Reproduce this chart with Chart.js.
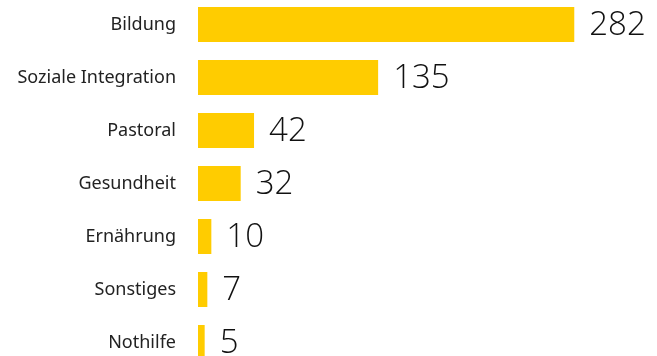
<!DOCTYPE html>
<html>
<head>
<meta charset="utf-8">
<script src="https://cdn.jsdelivr.net/npm/chart.js@4"></script>
<style>
  html, body { margin: 0; padding: 0; background: #fff; overflow: hidden; }
  #projectChart { position: absolute; left: 0; top: -2px; }
</style>
</head>
<body>
<canvas id="projectChart" width="657" height="371"></canvas>
<script>
// Projekte nach Bereich
const categories = ['Bildung', 'Soziale Integration', 'Pastoral', 'Gesundheit', 'Ernährung', 'Sonstiges', 'Nothilfe'];
const projectCounts = [282, 135, 42, 32, 10, 7, 5];

const barColor = '#FFCC00';

// writes the count next to the end of each bar
const valueLabels = {
  id: 'valueLabels',
  afterDatasetsDraw(chart) {
    const ctx = chart.ctx;
    const meta = chart.getDatasetMeta(0);
    ctx.save();
    ctx.font = '300 33px "Open Sans"';
    ctx.fillStyle = '#111';
    ctx.textAlign = 'left';
    ctx.textBaseline = 'middle';
    meta.data.forEach((bar, i) => {
      ctx.fillText(String(projectCounts[i]), bar.x + 15, bar.y + 1);
    });
    ctx.restore();
  }
};

new Chart(document.getElementById('projectChart'), {
  type: 'bar',
  data: {
    labels: categories,
    datasets: [{
      data: projectCounts,
      backgroundColor: barColor,
      barPercentage: 0.66,
      categoryPercentage: 1.0
    }]
  },
  options: {
    indexAxis: 'y',
    responsive: false,
    animation: false,
    layout: { padding: 0 },
    plugins: {
      legend: { display: false },
      tooltip: { enabled: false }
    },
    scales: {
      x: {
        display: false,
        min: 0,
        max: 344
      },
      y: {
        grid: { display: false, drawTicks: false },
        border: { display: false },
        ticks: {
          padding: 22,
          color: '#222',
          font: { family: '"Noto Sans"', size: 18 }
        },
        afterFit(scale) {
          // fixed label column, and no extra room above/below the bars
          scale.width = 198;
          scale.paddingTop = 0;
          scale.paddingBottom = 0;
        }
      }
    }
  },
  plugins: [valueLabels]
});
</script>
</body>
</html>
